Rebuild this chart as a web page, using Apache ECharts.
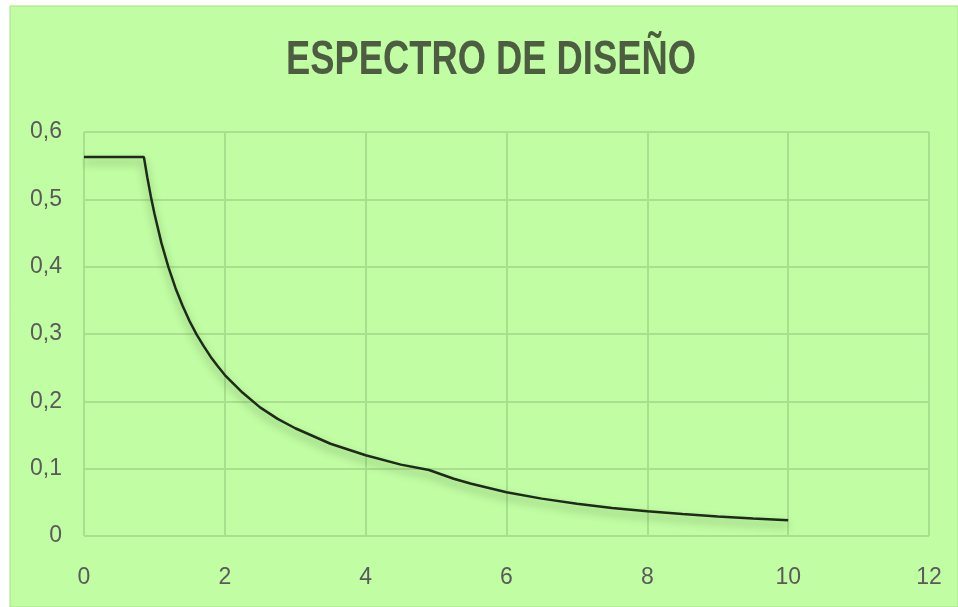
<!DOCTYPE html>
<html>
<head>
<meta charset="utf-8">
<script src="https://cdn.jsdelivr.net/npm/echarts@6/dist/echarts.min.js"></script>
<style>
  html, body { margin: 0; padding: 0; background: #fff; }
  #chart { width: 958px; height: 607px; }
</style>
</head>
<body>
<div id="chart"></div>
<script>
// periodo (s) y aceleración espectral
const periods = [0, 0.85, 0.9, 0.95, 1.0, 1.1, 1.2, 1.3, 1.4, 1.5, 1.6, 1.7, 1.8, 1.9, 2, 2.25, 2.5, 2.75, 3, 3.5, 4, 4.5, 4.9, 5.25, 5.5, 6, 6.5, 7, 7.5, 8, 8.5, 9, 9.5, 10]
const sa = [0.563, 0.563, 0.532, 0.504, 0.479, 0.435, 0.399, 0.368, 0.342, 0.319, 0.299, 0.282, 0.266, 0.252, 0.239, 0.213, 0.191, 0.174, 0.160, 0.137, 0.120, 0.106, 0.098, 0.085, 0.0775, 0.065, 0.0555, 0.048, 0.0417, 0.0366, 0.0325, 0.029, 0.026, 0.0235]
const xTicks = [0, 2, 4, 6, 8, 10, 12]
const yTicks = [0, 0.1, 0.2, 0.3, 0.4, 0.5, 0.6]
const title = 'ESPECTRO DE DISEÑO'

const chart = echarts.init(document.getElementById('chart'))
const font = '"Liberation Sans", Arial, sans-serif'
const gridColor = '#a9e08d'
const labelColor = '#5a5a5a'

chart.setOption({
  animation: false,
  graphic: [
    {
      type: 'rect',
      shape: { x: 10, y: 6, width: 948, height: 601 },
      style: { fill: '#c1fda3', stroke: '#a6e08a', lineWidth: 1 },
      z: -10
    },
    {
      // título comprimido, como en la fuente estrecha del original
      type: 'text',
      x: 491, y: 61,
      scaleX: 0.757,
      style: {
        text: title, x: 0, y: 0,
        align: 'center', verticalAlign: 'middle',
        font: 'bold 48px ' + font,
        fill: '#4c5d42'
      }
    }
  ],
  grid: { left: 84, right: 29, top: 132, bottom: 71 },
  xAxis: {
    type: 'value',
    min: 0, max: 12, interval: 2,
    axisLine: { show: false },
    axisTick: { show: false },
    splitLine: { show: true, lineStyle: { color: gridColor, width: 2 } },
    axisLabel: {
      color: labelColor, fontFamily: font, fontSize: 23, margin: 30,
      formatter: v => xTicks.includes(v) ? String(v) : ''
    }
  },
  yAxis: {
    type: 'value',
    min: 0, max: 0.6, interval: 0.1,
    axisLine: { show: false },
    axisTick: { show: false },
    splitLine: { show: true, lineStyle: { color: gridColor, width: 2 } },
    axisLabel: {
      color: labelColor, fontFamily: font, fontSize: 23, margin: 22,
      padding: [10, 0, 0, 0],
      formatter: v => {
        const t = yTicks.find(y => Math.abs(y - v) < 1e-9)
        return t === undefined ? '' : (t === 0 ? '0' : t.toFixed(1).replace('.', ','))
      }
    }
  },
  series: [{
    type: 'line',
    data: periods.map((p, i) => [p, sa[i]]),
    smooth: false,
    symbol: 'none',
    lineStyle: {
      color: '#1e2a1a', width: 2.5,
      shadowColor: 'rgba(40, 70, 30, 0.45)', shadowBlur: 8, shadowOffsetY: 5
    }
  }]
})
</script>
</body>
</html>
